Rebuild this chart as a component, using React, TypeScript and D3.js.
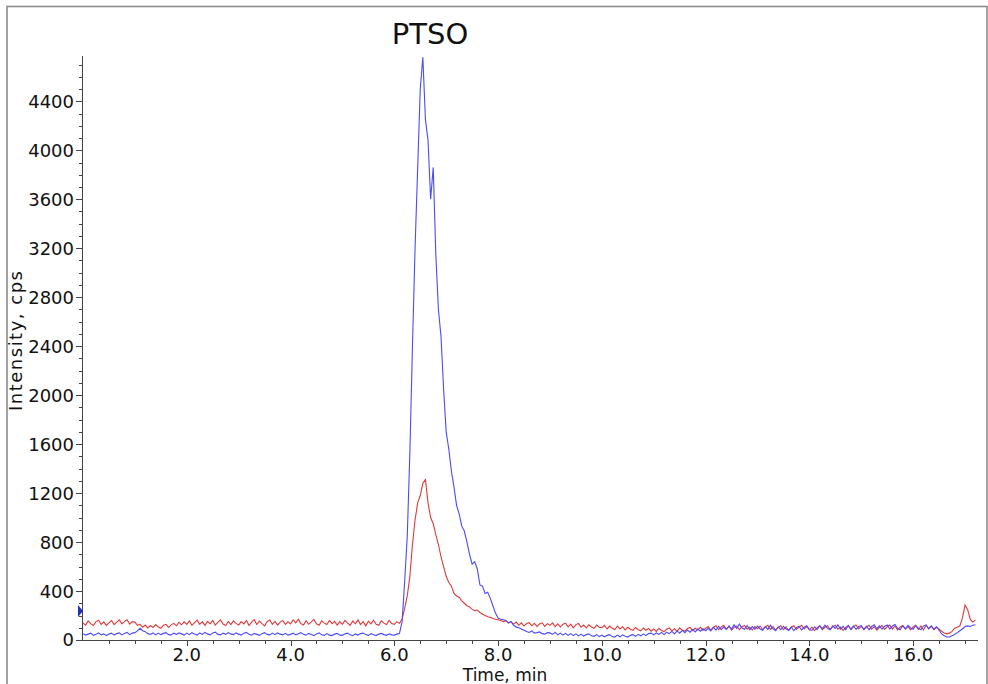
import React from 'react';
import * as d3 from 'd3';

// Sampling interval of the chromatogram traces (min)
const STEP = 0.05;

// Blue trace, intensity (cps) every 0.05 min from 0.00 to 17.20
const blueValues: number[] = [
  52, 40, 48, 56, 38, 46, 58, 42, 50, 36, 48, 56, 40, 52, 58, 42, 54, 62, 44, 56,
  60, 74, 96, 76, 68, 52, 46, 58, 42, 56, 44, 54, 60, 44, 42, 56, 46, 58, 50, 40,
  56, 44, 60, 48, 40, 58, 46, 62, 50, 42, 58, 64, 46, 42, 56, 46, 60, 50, 44, 58,
  48, 40, 56, 62, 46, 40, 54, 46, 38, 52, 60, 46, 42, 56, 44, 58, 48, 42, 54, 40,
  46, 56, 42, 52, 60, 46, 40, 54, 44, 36, 50, 58, 42, 38, 52, 40, 36, 48, 54, 40,
  38, 50, 56, 42, 36, 50, 40, 52, 56, 44, 38, 52, 42, 36, 48, 54, 44, 38, 50, 42,
  40, 48, 55, 150, 480, 850, 1530, 2400, 3200, 3850, 4500, 4760, 4250, 4080, 3600, 3860, 3150, 2700, 2480, 2050,
  1700, 1560, 1380, 1250, 1100, 1030, 930, 890, 800, 700, 620, 640, 580, 450, 440, 380, 390, 340, 280, 220,
  180, 170, 165, 160, 140, 150, 120, 105, 100, 90, 80, 70, 62, 74, 56, 60, 66, 52, 48, 60,
  58, 46, 62, 42, 56, 40, 54, 38, 52, 36, 50, 34, 48, 32, 44, 50, 34, 30, 44, 28,
  40, 26, 38, 44, 28, 24, 40, 26, 42, 30, 24, 38, 44, 30, 46, 34, 50, 36, 52, 56,
  42, 58, 46, 62, 44, 64, 52, 70, 50, 74, 56, 78, 60, 82, 64, 86, 66, 90, 72, 92,
  76, 96, 74, 104, 80, 112, 84, 106, 86, 116, 90, 124, 94, 130, 98, 88, 118, 84, 110, 88,
  114, 90, 80, 110, 86, 120, 92, 76, 108, 84, 112, 90, 80, 106, 76, 100, 112, 82, 104, 116,
  86, 78, 108, 84, 116, 92, 122, 96, 84, 116, 94, 124, 88, 112, 84, 118, 90, 114, 86, 110,
  118, 88, 114, 84, 110, 124, 92, 116, 88, 112, 122, 90, 114, 126, 96, 84, 116, 92, 120, 98,
  88, 118, 96, 84, 114, 122, 92, 116, 88, 108, 80, 50, 35, 25, 25, 35, 45, 60, 75, 90,
  110, 115, 110, 120, 125,
];

// Red trace, intensity (cps) every 0.05 min from 0.00 to 17.20
const redValues: number[] = [
  140, 122, 156, 134, 118, 150, 162, 128, 148, 120, 140, 158, 126, 146, 164, 132, 152, 166, 130, 150,
  146, 120, 128, 104, 122, 98, 118, 102, 126, 106, 96, 120, 128, 102, 124, 136, 116, 144, 124, 148,
  128, 156, 120, 142, 162, 128, 150, 118, 152, 132, 160, 122, 146, 164, 130, 118, 152, 126, 156, 136,
  122, 150, 132, 160, 118, 146, 166, 126, 154, 134, 116, 150, 164, 128, 152, 122, 146, 160, 128, 150,
  132, 164, 140, 170, 134, 122, 158, 130, 148, 168, 132, 120, 156, 138, 126, 160, 134, 152, 122, 150,
  128, 160, 138, 120, 156, 132, 164, 126, 150, 116, 154, 132, 162, 128, 120, 156, 138, 126, 160, 134,
  128, 150, 136, 170, 260, 360, 520, 780, 980, 1120, 1180, 1280, 1310, 1120, 1000, 950, 860, 780, 680, 600,
  520, 470, 440, 380, 360, 350, 320, 300, 280, 270, 250, 240, 245, 225, 210, 200, 190, 185, 175, 170,
  165, 160, 150, 158, 138, 150, 130, 146, 120, 140, 114, 134, 142, 116, 136, 110, 130, 140, 112, 134,
  120, 140, 110, 132, 106, 128, 138, 108, 130, 100, 126, 136, 104, 122, 98, 124, 106, 96, 122, 104,
  100, 120, 90, 114, 96, 86, 114, 90, 108, 82, 104, 88, 78, 102, 84, 74, 98, 80, 94, 72,
  90, 70, 96, 78, 68, 88, 98, 74, 92, 70, 100, 80, 72, 94, 102, 76, 96, 82, 104, 78,
  96, 110, 80, 104, 116, 84, 106, 120, 88, 112, 80, 104, 114, 84, 108, 118, 88, 104, 82, 110,
  92, 114, 84, 106, 120, 86, 110, 80, 104, 116, 84, 108, 78, 102, 116, 86, 104, 120, 90, 110,
  82, 106, 76, 100, 114, 84, 104, 116, 86, 108, 120, 88, 106, 78, 102, 116, 84, 108, 122, 90,
  112, 84, 106, 120, 88, 110, 80, 104, 118, 86, 108, 122, 90, 114, 82, 106, 118, 88, 110, 84,
  106, 120, 86, 114, 82, 122, 90, 112, 84, 104, 88, 72, 58, 50, 56, 70, 96, 104, 116, 180,
  285, 250, 170, 146, 162,
];

const yTickValues = [0, 400, 800, 1200, 1600, 2000, 2400, 2800, 3200, 3600, 4000, 4400];
const xTickValues = [2, 4, 6, 8, 10, 12, 14, 16];
const xTickLabels = ['2.0', '4.0', '6.0', '8.0', '10.0', '12.0', '14.0', '16.0'];

const TITLE = 'PTSO';
const X_LABEL = 'Time, min';
const Y_LABEL = 'Intensity, cps';

export default function App() {
  const W = 988;
  const H = 684;
  const x = d3.scaleLinear().domain([0, 17.25]).range([83, 978]);
  const y = d3.scaleLinear().domain([0, 4770]).range([640, 56]);

  const line = d3
    .line<number>()
    .x((_d, i) => x(i * STEP))
    .y((d) => y(d));

  const yMinor = d3.range(0, 4701, 100);
  const xMinor = d3.range(0.5, 17.01, 0.5);
  const font = '"DejaVu Sans", sans-serif';
  const axisColor = '#444';

  return (
    <svg
      width={W}
      height={H}
      style={{ position: 'absolute', left: 0, top: 0, display: 'block', background: '#fff' }}
    >
      {/* outer frame */}
      <rect x={7} y={6.5} width={980} height={700} fill="none" stroke="#8c8c8c" strokeWidth={1.6} />

      {/* title */}
      <text x={430} y={44} textAnchor="middle" fontFamily={font} fontSize={29} fill="#111">
        {TITLE}
      </text>

      {/* y axis */}
      <line x1={82.5} x2={82.5} y1={y(4770)} y2={640.5} stroke={axisColor} strokeWidth={1} />
      {yMinor.map((v) => (
        <line
          key={'ym' + v}
          x1={82.5}
          x2={v % 400 === 0 ? 76 : 79}
          y1={Math.round(y(v)) + 0.5}
          y2={Math.round(y(v)) + 0.5}
          stroke={axisColor}
          strokeWidth={1}
        />
      ))}
      {yTickValues.map((v) => (
        <text
          key={'yl' + v}
          x={74}
          y={y(v)}
          dy="0.36em"
          textAnchor="end"
          fontFamily={font}
          fontSize={18}
          fill="#111"
        >
          {v}
        </text>
      ))}

      {/* x axis */}
      <line x1={82} x2={978} y1={640.5} y2={640.5} stroke={axisColor} strokeWidth={1} />
      {xMinor.map((t) => (
        <line
          key={'xm' + t}
          x1={Math.round(x(t)) + 0.5}
          x2={Math.round(x(t)) + 0.5}
          y1={640.5}
          y2={t % 2 === 0 ? 646 : 644}
          stroke={axisColor}
          strokeWidth={1}
        />
      ))}
      {xTickValues.map((t, i) => (
        <text
          key={'xl' + t}
          x={x(t)}
          y={661}
          textAnchor="middle"
          fontFamily={font}
          fontSize={18}
          fill="#111"
        >
          {xTickLabels[i]}
        </text>
      ))}

      {/* axis titles */}
      <text x={505} y={681} textAnchor="middle" fontFamily={font} fontSize={17} fill="#111">
        {X_LABEL}
      </text>
      <text
        transform={`translate(22, 341) rotate(-90)`}
        textAnchor="middle"
        fontFamily={font}
        fontSize={18}
        textLength={140}
        lengthAdjust="spacing"
        fill="#111"
      >
        {Y_LABEL}
      </text>

      {/* marker on the y axis */}
      <path d="M78,605 L83,611 L78,617 Z" fill="#1f2fb0" />

      {/* traces */}
      <path d={line(redValues) ?? ''} fill="none" stroke="#e03a3a" strokeWidth={1.1} />
      <path d={line(blueValues) ?? ''} fill="none" stroke="#4a4aff" strokeWidth={1.1} />
    </svg>
  );
}
